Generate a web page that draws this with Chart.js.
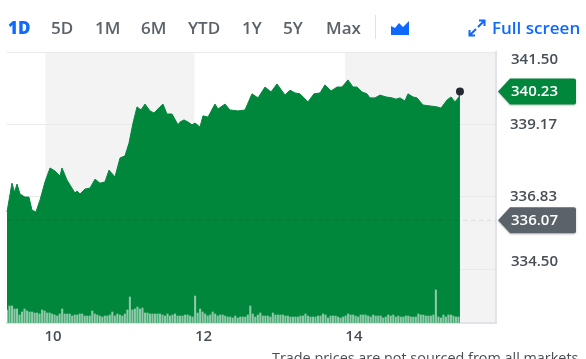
<!DOCTYPE html>
<html>
<head>
<meta charset="utf-8">
<script src="https://cdn.jsdelivr.net/npm/chart.js@4"></script>
<style>
  html, body { margin: 0; padding: 0; background: #fff; overflow: hidden; }
  body { width: 586px; height: 359px; position: relative; font-family: "Open Sans", sans-serif; }
  canvas { position: absolute; left: 0; top: 0; }
  .range { position: absolute; top: 17px; font-size: 17px; line-height: 22px; font-weight: 600; color: #5b636a; white-space: nowrap; }
  .blue { color: #0f69ff; }
  #sep { position: absolute; left: 375px; top: 15px; width: 1px; height: 24px; background: #e0e3e5; }
  #note { position: absolute; left: 272px; top: 348px; font-size: 14.4px; line-height: 20px; color: #464e56; white-space: nowrap; }
  svg { position: absolute; }
</style>
</head>
<body>
<canvas id="quote" width="586" height="359"></canvas>
<div class="range blue" style="left:8px;font-weight:800">1D</div>
<div class="range" style="left:51px">5D</div>
<div class="range" style="left:95px">1M</div>
<div class="range" style="left:141px">6M</div>
<div class="range" style="left:188px">YTD</div>
<div class="range" style="left:242px">1Y</div>
<div class="range" style="left:283px">5Y</div>
<div class="range" style="left:326px">Max</div>
<div id="sep"></div>
<svg style="left:390px;top:20px" width="20" height="16"><path d="M1 6 L5 8 L9 3 L13 7 L19 1 L19 15 L1 15 Z" fill="#0f69ff"/></svg>
<svg style="left:468px;top:19px" width="18" height="18"><path d="M10 8 L16 2 M11 1.5 L16.5 1.5 L16.5 7 M8 10 L2 16 M1.5 11 L1.5 16.5 L7 16.5" fill="none" stroke="#0f69ff" stroke-width="2"/></svg>
<div class="range blue" style="left:492px">Full screen</div>
<div id="note">Trade prices are not sourced from all markets</div>

<script>
// hours of the day, price
const priceTimes = [9.389, 9.455, 9.489, 9.522, 9.562, 9.628, 9.681, 9.721, 9.774, 9.828, 9.894, 9.961, 10.027, 10.093, 10.12, 10.186, 10.293, 10.319, 10.359, 10.426, 10.492, 10.559, 10.625, 10.691, 10.745, 10.824, 10.891, 10.957, 11.01, 11.064, 11.117, 11.17, 11.223, 11.29, 11.343, 11.422, 11.462, 11.515, 11.582, 11.662, 11.688, 11.741, 11.795, 11.848, 11.888, 11.954, 11.994, 12.06, 12.153, 12.193, 12.286, 12.353, 12.459, 12.552, 12.645, 12.725, 12.818, 12.898, 12.977, 13.084, 13.15, 13.217, 13.283, 13.389, 13.469, 13.549, 13.615, 13.695, 13.775, 13.841, 13.921, 13.987, 14.04, 14.107, 14.173, 14.213, 14.28, 14.346, 14.426, 14.506, 14.559, 14.612, 14.678, 14.718, 14.785, 14.838, 14.918, 15.011, 15.104, 15.157, 15.237, 15.29, 15.343, 15.396, 15.409];
const prices = [336.34, 337.27, 336.98, 337.24, 336.92, 336.82, 336.82, 336.40, 336.34, 336.73, 337.31, 337.76, 337.66, 337.50, 337.76, 337.37, 336.95, 337.02, 336.92, 337.08, 337.11, 337.40, 337.27, 337.31, 337.69, 337.47, 338.08, 338.15, 338.56, 339.21, 339.73, 339.63, 339.82, 339.60, 339.53, 339.73, 339.82, 339.50, 339.50, 339.15, 339.24, 339.31, 339.24, 339.15, 339.21, 339.08, 339.44, 339.40, 339.82, 339.66, 339.82, 339.63, 339.60, 339.63, 340.15, 340.02, 340.37, 340.21, 340.47, 340.11, 340.27, 340.18, 340.15, 339.89, 340.15, 340.18, 340.44, 340.24, 340.37, 340.37, 340.60, 340.37, 340.37, 340.21, 340.15, 340.02, 340.02, 340.11, 340.05, 340.02, 339.98, 340.02, 339.92, 340.15, 340.05, 340.02, 339.79, 339.76, 339.73, 339.69, 339.95, 340.05, 339.89, 340.05, 340.23];
// one bar every 2 minutes from the open
const volumes = [13, 17, 17, 14, 14, 8, 11, 14, 12, 11, 11, 10, 10, 9, 13, 12, 10, 10, 9, 8, 7, 9, 14, 9, 9, 9, 7, 8, 8, 9, 9, 7, 7, 7, 12, 9, 8, 7, 6, 7, 7, 8, 11, 7, 9, 8, 7, 9, 13, 26, 13, 14, 16, 14, 15, 10, 10, 9, 9, 9, 9, 9, 8, 7, 9, 7, 8, 9, 7, 7, 7, 8, 8, 7, 6, 27, 10, 14, 11, 9, 7, 8, 11, 9, 7, 8, 8, 7, 6, 6, 5, 7, 5,
  6, 6, 6, 8, 17, 9, 6, 8, 10, 7, 7, 7, 6, 10, 8, 8, 8, 8, 7, 7, 6, 6, 6, 6, 7, 7, 9, 7, 6, 6, 6, 7, 7, 9, 8, 5, 7, 7, 7, 6, 5, 6, 7, 9, 8, 8, 7, 6, 8, 8, 8, 7, 6, 8, 7, 7, 7, 5, 6, 8, 7, 8, 6, 7, 6, 6, 7, 7, 6, 6, 6, 9, 8, 8, 7, 7, 7, 8, 33, 6, 5, 8, 6, 8, 8, 7, 6, 6];
const hourTicks = [10, 12, 14];
const priceTicks = [341.5, 339.17, 336.83, 334.5];
const shadedHours = [[9.9, 11.88], [13.88, 15.888]];
const lastPrice = 340.23;
const prevClose = 336.07;

const green = "#00873c";
const grey = "#5b636a";
const tickFont = { family: "Open Sans", size: 15, weight: "600" };

function badge(ctx, y, value, color) {
  ctx.save();
  ctx.shadowColor = "rgba(0,0,0,0.25)";
  ctx.shadowBlur = 2;
  ctx.shadowOffsetY = 1;
  ctx.fillStyle = color;
  ctx.beginPath();
  ctx.moveTo(498, y);
  ctx.lineTo(510, y - 13);
  ctx.lineTo(574, y - 13);
  ctx.quadraticCurveTo(576, y - 13, 576, y - 11);
  ctx.lineTo(576, y + 11);
  ctx.quadraticCurveTo(576, y + 13, 574, y + 13);
  ctx.lineTo(510, y + 13);
  ctx.closePath();
  ctx.fill();
  ctx.restore();
  ctx.fillStyle = "#fff";
  ctx.font = "600 15px 'Open Sans'";
  ctx.textBaseline = "middle";
  ctx.fillText(value.toFixed(2), 511, y + 0.5);
}

const quotePlugin = {
  id: "quoteExtras",
  beforeDraw(chart) {
    const { ctx, chartArea, scales } = chart;
    ctx.fillStyle = "#f3f3f4";
    shadedHours.forEach(([a, b]) => {
      const x0 = scales.x.getPixelForValue(a);
      const x1 = scales.x.getPixelForValue(b);
      ctx.fillRect(x0, chartArea.top, x1 - x0, chartArea.bottom - chartArea.top);
    });
  },
  afterDraw(chart) {
    const { ctx, chartArea, scales } = chart;
    // previous close dashed line
    const yPrev = scales.y.getPixelForValue(prevClose);
    ctx.save();
    ctx.strokeStyle = "rgba(0,0,0,0.1)";
    ctx.setLineDash([4, 4]);
    ctx.beginPath();
    ctx.moveTo(chartArea.left, yPrev);
    ctx.lineTo(chartArea.right, yPrev);
    ctx.stroke();
    ctx.restore();
    // top and bottom tick labels sit away from their lines
    ctx.fillStyle = "#464e56";
    ctx.font = "600 15px 'Open Sans'";
    ctx.textBaseline = "middle";
    ctx.fillText(priceTicks[0].toFixed(2), 511, scales.y.getPixelForValue(priceTicks[0]) + 8);
    ctx.fillText(priceTicks[3].toFixed(2), 511, scales.y.getPixelForValue(priceTicks[3]) - 7);
    badge(ctx, scales.y.getPixelForValue(lastPrice), lastPrice, green);
    badge(ctx, yPrev, prevClose, grey);
  },
};

new Chart("quote", {
  data: {
    datasets: [
      {
        type: "bar",
        order: 1,
        yAxisID: "v",
        data: volumes.map((v, i) => ({ x: priceTimes[0] + i / 30, y: v })),
        backgroundColor: "rgba(255,255,255,0.55)",
        barThickness: 1.4,
      },
      {
        type: "line",
        order: 2,
        yAxisID: "y",
        data: priceTimes.map((t, i) => ({ x: t, y: prices[i] })),
        borderColor: green,
        borderWidth: 1,
        backgroundColor: green,
        fill: "start",
        tension: 0,
        pointRadius: (c) => (c.dataIndex === prices.length - 1 ? 4 : 0),
        pointBackgroundColor: "#232a31",
        pointBorderWidth: 0,
        clip: false,
      },
    ],
  },
  options: {
    responsive: false,
    animation: false,
    layout: { padding: { left: 7, top: 52 } },
    plugins: { legend: { display: false }, tooltip: { enabled: false } },
    scales: {
      x: {
        type: "linear",
        offset: false,
        min: 9.389,
        max: 15.888,
        afterBuildTicks: (s) => { s.ticks = hourTicks.map((v) => ({ value: v })); },
        afterFit: (s) => { s.height = 36; },
        grid: { display: false, drawTicks: false },
        border: { color: "#e2e3ea", width: 2 },
        ticks: { color: "#464e56", font: tickFont, padding: 5, maxRotation: 0, callback: (v) => String(v) },
      },
      y: {
        position: "right",
        min: 332.76,
        max: 341.5,
        afterBuildTicks: (s) => { s.ticks = priceTicks.map((v) => ({ value: v })); },
        afterFit: (s) => { s.width = 90; },
        grid: { color: "#e9e9ea", drawTicks: false },
        border: { color: "#e2e3ea", width: 2 },
        ticks: {
          color: "#464e56",
          font: tickFont,
          padding: 14,
          callback: (v) => (v === priceTicks[0] || v === priceTicks[3] ? "" : v.toFixed(2)),
        },
      },
      v: { display: false, min: 0, max: 271 },
    },
  },
  plugins: [quotePlugin],
});
</script>
</body>
</html>
